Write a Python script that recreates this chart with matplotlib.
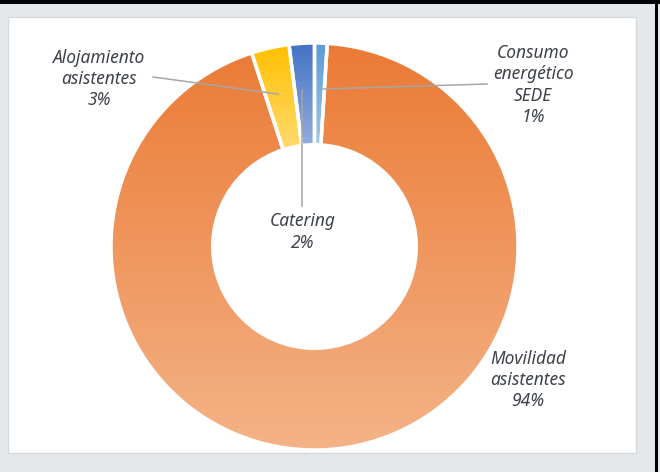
import matplotlib
matplotlib.use("Agg")
import matplotlib.pyplot as plt
import matplotlib.patches as mpatches
import numpy as np
from matplotlib.colors import to_rgb

# ---- data ----
categories = ["Consumo\nenergético\nSEDE", "Movilidad\nasistentes", "Alojamiento\nasistentes", "Catering"]
values = [1, 94, 3, 2]
pct_labels = ["1%", "94%", "3%", "2%"]
top_colors = ["#5B9BD5", "#EB7A35", "#FFC000", "#4472C4"]
bottom_colors = ["#A4C6E8", "#F4B387", "#FFDA70", "#93ADDE"]
explode = [0.015, 0.0, 0.01, 0.015]

W, H = 660, 472
fig = plt.figure(figsize=(W / 100, H / 100), dpi=100)
fig.patch.set_facecolor("#E4E8EB")
ax = fig.add_axes([0, 0, 1, 1])
ax.set_xlim(0, W)
ax.set_ylim(0, H)
ax.axis("off")

def py(y):  # pixel-from-top to data y
    return H - y

# white panel
panel = mpatches.Rectangle((8, py(453)), 628, 436, facecolor="white",
                           edgecolor="#D6D9DC", linewidth=1.0, zorder=0)
ax.add_patch(panel)
# black frame pieces (top and right)
ax.add_patch(mpatches.Rectangle((0, py(4)), W, 4, facecolor="black", edgecolor="none", zorder=0))
ax.add_patch(mpatches.Rectangle((655, 0), 3, H, facecolor="black", edgecolor="none", zorder=0))

cx, cy, R = 314.5, py(246.5), 203.5
wedges, _ = ax.pie(values, startangle=90, counterclock=False, radius=R,
                   center=(cx, cy), explode=[e for e in explode],
                   wedgeprops=dict(width=R * 0.5, edgecolor="white", linewidth=2.5,
                                   facecolor="none"))
ax.set_xlim(0, W)
ax.set_ylim(0, H)
ax.set_aspect("auto")

for w, ct, cb in zip(wedges, top_colors, bottom_colors):
    w.set_zorder(3)
    bb = w.get_path().get_extents()
    t = np.array(to_rgb(ct))
    b = np.array(to_rgb(cb))
    n = 256
    f = np.linspace(0, 1, n)[:, None]
    grad = (t[None, :] * (1 - f) + b[None, :] * f)[:, None, :]
    im = ax.imshow(grad, extent=[bb.x0, bb.x1, bb.y0, bb.y1], origin="upper",
                   aspect="auto", zorder=2, interpolation="bilinear")
    im.set_clip_path(w)
ax.set_xlim(0, W)
ax.set_ylim(0, H)

# leader lines
lc = "#A6A6A6"
ax.plot([153, 278], [py(77), py(94)], color=lc, lw=1.1, zorder=4)
ax.plot([302, 302], [py(90), py(206)], color=lc, lw=1.1, zorder=4)
ax.plot([322, 487], [py(89), py(84)], color=lc, lw=1.1, zorder=4)

tc = "#3E4249"
font = dict(family="Noto Sans", style="italic", size=12.5, color=tc,
            ha="center", va="center", linespacing=1.22, zorder=5)
ax.text(99, py(79), categories[2] + "\n" + pct_labels[2], **font)
ax.text(303, py(232), categories[3] + "\n" + pct_labels[3], **font)
ax.text(533, py(85), categories[0] + "\n" + pct_labels[0], **font)
ax.text(528, py(380), categories[1] + "\n" + pct_labels[1], **font)

fig.savefig("out.png", dpi=100, facecolor=fig.get_facecolor())
